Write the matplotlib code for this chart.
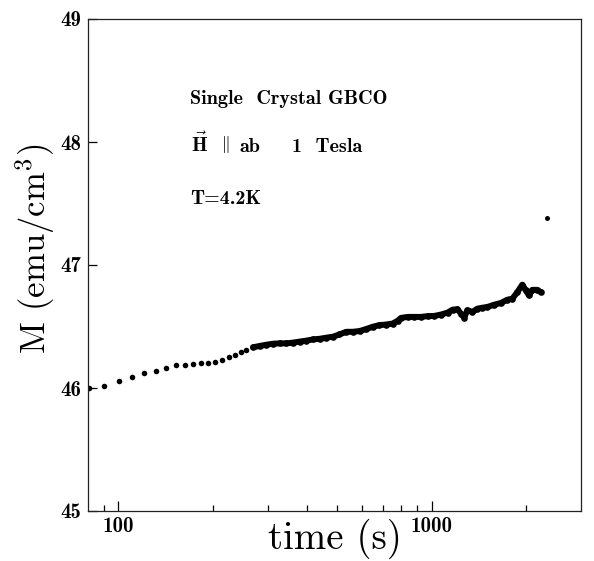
import matplotlib
matplotlib.use("Agg")
import matplotlib.pyplot as plt
from matplotlib.ticker import FixedLocator, NullFormatter

plt.rcParams['mathtext.fontset'] = 'cm'
plt.rcParams['axes.formatter.use_mathtext'] = True

# sparse early readings (time in s, M in emu/cm^3)
t_sparse = [80.3, 90.2, 100.7, 110.6, 121, 131.8, 141.8, 152.7, 162.7, 173,
            183.9, 194, 204, 215, 225, 235, 246, 256]
m_sparse = [46.00, 46.02, 46.06, 46.086, 46.12, 46.137, 46.159, 46.186, 46.188,
            46.196, 46.20, 46.20, 46.215, 46.23, 46.25, 46.27, 46.29, 46.31]

# dense later readings
t_dense = [269, 283, 297, 312, 327, 344, 361, 379, 398, 418, 439, 461, 484, 508,
           534, 560, 589, 618, 649, 681, 716, 751, 779, 799, 839, 881, 925, 971,
           1020, 1071, 1125, 1167, 1210, 1241, 1271, 1302, 1351, 1401, 1454, 1508,
           1584, 1663, 1746, 1811, 1879, 1949, 1998, 2047, 2098, 2176, 2230]
m_dense = [46.331, 46.342, 46.352, 46.360, 46.363, 46.363, 46.369, 46.377, 46.385,
           46.395, 46.400, 46.409, 46.417, 46.435, 46.457, 46.457, 46.463, 46.479,
           46.498, 46.511, 46.516, 46.524, 46.546, 46.570, 46.578, 46.578, 46.578,
           46.584, 46.586, 46.597, 46.613, 46.637, 46.640, 46.605, 46.573, 46.632,
           46.619, 46.645, 46.653, 46.659, 46.677, 46.691, 46.718, 46.726, 46.78,
           46.84, 46.794, 46.753, 46.798, 46.798, 46.78]

# isolated outlier point
t_out = [2330]
m_out = [47.38]

x_major = [100, 1000]
x_major_labels = ['100', '1000']
x_minor = [90, 200, 300, 400, 500, 600, 700, 800, 900, 2000]
y_ticks = [45, 46, 47, 48, 49]
y_labels = ['45', '46', '47', '48', '49']

fig = plt.figure(figsize=(5.94, 5.61), dpi=100)
ax = fig.add_axes([88/594, 1-511/561, 493/594, 492/561])

ax.plot(t_sparse, m_sparse, 'o', color='black', markersize=4.0, markeredgewidth=0)
ax.plot(t_dense, m_dense, '-o', color='black', linewidth=4.3, markersize=4.8,
        markeredgewidth=0, solid_joinstyle='round', solid_capstyle='round')
ax.plot(t_out, m_out, 'o', color='black', markersize=3.6, markeredgewidth=0)

ax.set_xscale('log')
ax.set_xlim(80, 3000)
ax.set_ylim(45, 49)

ax.xaxis.set_major_locator(FixedLocator(x_major))
ax.xaxis.set_minor_locator(FixedLocator(x_minor))
ax.xaxis.set_minor_formatter(NullFormatter())
ax.set_xticks(x_major)
ax.set_xticklabels(x_major_labels)
ax.set_yticks(y_ticks)
ax.set_yticklabels(y_labels)

for lab in ax.get_xticklabels() + ax.get_yticklabels():
    lab.set_fontfamily('cmb10')
    lab.set_fontsize(15)

ax.tick_params(axis='x', which='major', direction='in', length=7, width=0.9, pad=4,
               top=False)
ax.tick_params(axis='x', which='minor', direction='in', length=4.5, width=0.9, top=False)
ax.tick_params(axis='y', which='major', direction='in', length=6.5, width=0.9, pad=5,
               right=False)
ax.tick_params(axis='y', which='minor', left=False, right=False)

for sp in ax.spines.values():
    sp.set_color('#222222')
    sp.set_linewidth(0.9)

ax.set_xlabel('time (s)', fontfamily='cmr10', fontsize=28, labelpad=-12)
ax.set_ylabel(r'M (emu/cm$^3$)', fontfamily='cmr10', fontsize=25)
ax.yaxis.set_label_coords((57 - 88) / 493, (511 - 249) / 492)

def fx(px):
    return (px - 88) / 493

def fy(py):
    return (511 - py) / 492

fs = 14.5
tk = dict(transform=ax.transAxes, fontfamily='cmb10', fontsize=fs, va='baseline',
          ha='left', color='black')
ax.text(fx(190), fy(104.3), 'Single  Crystal GBCO', **tk)
ax.text(fx(191), fy(151.7), r'$\vec{\mathbf{H}}$', transform=ax.transAxes,
        fontsize=fs, va='baseline', ha='left')
ax.text(fx(221), fy(149), r'$\|$', transform=ax.transAxes, fontsize=12.5,
        va='baseline', ha='left')
ax.text(fx(240), fy(151.7), 'ab', **tk)
ax.text(fx(291.5), fy(151.7), '1  Tesla', **tk)
ax.text(fx(190), fy(204), 'T=4.2K', **tk)

fig.savefig('out.png', dpi=100)
